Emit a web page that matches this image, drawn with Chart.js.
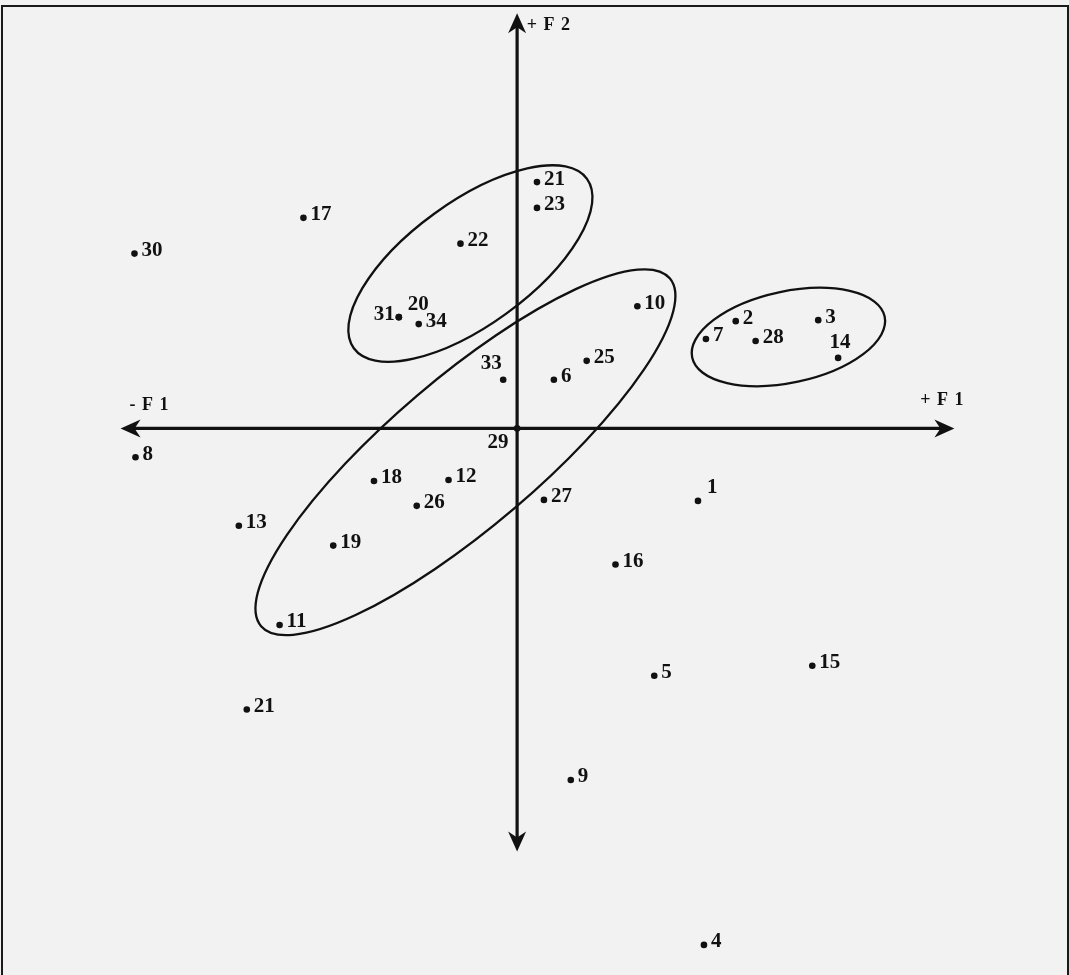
<!DOCTYPE html>
<html>
<head>
<meta charset="utf-8">
<title>F1 / F2</title>
<script src="https://cdn.jsdelivr.net/npm/chart.js@4/dist/chart.umd.min.js"></script>
<style>
    html, body { margin: 0; padding: 0; background: #f2f2f2; overflow: hidden; }
    #frame {
        position: absolute; left: 1px; top: 5px; width: 1064px; height: 980px;
        border: 2px solid #1a1a1a; border-bottom: none;
    }
    #plot { position: absolute; left: 0; top: 0; }
</style>
</head>
<body>
<div id="frame"></div>
<canvas id="plot" width="1069" height="975"></canvas>
<script>
// observation numbers and their factor scores (F1 horizontal, F2 vertical)
const pointLabels = ['1', '2', '3', '4', '5', '6', '7', '8', '9', '10', '11', '12', '13', '14', '15', '16', '17',
    '18', '19', '20', '21', '21', '22', '23', '25', '26', '27', '28', '29', '30', '31', '33', '34'];
const f1Values = [1.82, 2.20, 3.03, 1.88, 1.38, 0.37, 1.90, -3.84, 0.54, 1.21, -2.39, -0.69, -2.80, 3.23, 2.97, 0.99, -2.15,
    -1.44, -1.85, -1.19, 0.20, -2.72, -0.57, 0.20, 0.70, -1.01, 0.27, 2.40, 0, -3.85, -1.19, -0.14, -0.99];
const f2Values = [-0.73, 1.08, 1.09, -5.20, -2.49, 0.49, 0.90, -0.29, -3.54, 1.23, -1.98, -0.52, -0.98, 0.71, -2.39, -1.37, 2.12,
    -0.53, -1.18, 1.12, 2.48, -2.83, 1.86, 2.22, 0.68, -0.78, -0.72, 0.88, 0, 1.76, 1.12, 0.49, 1.05];

// where each number sits next to its dot
const labelSide = {
    '1': 'aboveRight', '14': 'above', '20': 'aboveRight', '29': 'belowLeft', '31': 'left', '33': 'aboveLeft'
};

// groupings: centre (F1, F2), half axes, tilt in degrees
const groupEllipses = [
    { f1: -0.47, f2: 1.66, a: 1.45, b: 0.62, angle: 36 },
    { f1: -0.52, f2: -0.24, a: 2.70, b: 0.75, angle: 40.4 },
    { f1: 2.73, f2: 0.92, a: 0.99, b: 0.46, angle: 12 }
];

// axis arrows and their titles
const axisExtent = { f1Min: -3.99, f1Max: 4.40, f2Min: -4.26, f2Max: 4.18 };
const axisTitles = [
    { text: '+ F 2', f1: 0.32, f2: 4.06 },
    { text: '- F 1', f1: -3.70, f2: 0.23 },
    { text: '+ F 1', f1: 4.28, f2: 0.28 }
];

const INK = '#111';

function arrowHead (ctx, x, y, dirX, dirY) {
    const len = 20;
    const half = 9;
    const px = -dirY;
    const py = dirX;
    ctx.beginPath();
    ctx.moveTo(x, y);
    ctx.lineTo(x - dirX * len + px * half, y - dirY * len + py * half);
    ctx.lineTo(x - dirX * len * 0.7, y - dirY * len * 0.7);
    ctx.lineTo(x - dirX * len - px * half, y - dirY * len - py * half);
    ctx.closePath();
    ctx.fill();
}

const factorPlanePlugin = {
    id: 'factorPlane',
    beforeDatasetsDraw (chart) {
        const ctx = chart.ctx;
        const xs = chart.scales.x;
        const ys = chart.scales.y;
        const x0 = xs.getPixelForValue(0);
        const y0 = ys.getPixelForValue(0);

        ctx.save();
        ctx.strokeStyle = INK;
        ctx.fillStyle = INK;

        // ellipses
        ctx.lineWidth = 2.3;
        groupEllipses.forEach(e => {
            const cx = xs.getPixelForValue(e.f1);
            const cy = ys.getPixelForValue(e.f2);
            const rx = xs.getPixelForValue(e.f1 + e.a) - cx;
            const ry = cy - ys.getPixelForValue(e.f2 + e.b);
            ctx.beginPath();
            ctx.ellipse(cx, cy, rx, ry, -e.angle * Math.PI / 180, 0, Math.PI * 2);
            ctx.stroke();
        });

        // axes
        const left = xs.getPixelForValue(axisExtent.f1Min);
        const right = xs.getPixelForValue(axisExtent.f1Max);
        const top = ys.getPixelForValue(axisExtent.f2Max);
        const bottom = ys.getPixelForValue(axisExtent.f2Min);
        ctx.lineWidth = 3.2;
        ctx.beginPath();
        ctx.moveTo(left + 10, y0);
        ctx.lineTo(right - 10, y0);
        ctx.moveTo(x0, top + 10);
        ctx.lineTo(x0, bottom - 10);
        ctx.stroke();
        arrowHead(ctx, left, y0, -1, 0);
        arrowHead(ctx, right, y0, 1, 0);
        arrowHead(ctx, x0, top, 0, -1);
        arrowHead(ctx, x0, bottom, 0, 1);

        // axis titles
        ctx.font = 'bold 18px "Liberation Serif"';
        ctx.letterSpacing = '1px';
        ctx.textAlign = 'center';
        ctx.textBaseline = 'middle';
        axisTitles.forEach(t => {
            ctx.fillText(t.text, xs.getPixelForValue(t.f1), ys.getPixelForValue(t.f2));
        });
        ctx.restore();
    },
    afterDatasetsDraw (chart) {
        const ctx = chart.ctx;
        const meta = chart.getDatasetMeta(0);
        ctx.save();
        ctx.fillStyle = INK;
        ctx.font = 'bold 21px "Liberation Serif"';
        ctx.textBaseline = 'middle';
        meta.data.forEach((pt, i) => {
            const label = pointLabels[i];
            const side = labelSide[label] || 'right';
            let x = pt.x;
            let y = pt.y;
            if (side === 'right') {
                ctx.textAlign = 'left'; x += 7; y -= 3;
            } else if (side === 'left') {
                ctx.textAlign = 'right'; x -= 4; y -= 3;
            } else if (side === 'above') {
                ctx.textAlign = 'center'; x += 2; y -= 15;
            } else if (side === 'aboveRight') {
                ctx.textAlign = 'left'; x += 9; y -= 13;
            } else if (side === 'aboveLeft') {
                ctx.textAlign = 'center'; x -= 12; y -= 16;
            } else if (side === 'belowLeft') {
                ctx.textAlign = 'center'; x -= 19; y += 14;
            }
            ctx.fillText(label, x, y);
        });
        ctx.restore();
    }
};

new Chart(
    document.getElementById('plot'),
    {
        type: 'scatter',
        data: {
            datasets: [
                {
                    label: 'Observations',
                    data: f1Values.map((v, i) => ({ x: v, y: f2Values[i] })),
                    pointRadius: 3.3,
                    pointHoverRadius: 3.3,
                    pointBackgroundColor: INK,
                    pointBorderWidth: 0
                }
            ]
        },
        options: {
            responsive: false,
            animation: false,
            devicePixelRatio: 1,
            layout: { padding: 0 },
            scales: {
                x: { type: 'linear', min: -5.17, max: 5.52, display: false },
                y: { type: 'linear', min: -5.47, max: 4.28, display: false }
            },
            plugins: {
                legend: { display: false },
                tooltip: { enabled: false }
            }
        },
        plugins: [factorPlanePlugin]
    }
);
</script>
</body>
</html>
